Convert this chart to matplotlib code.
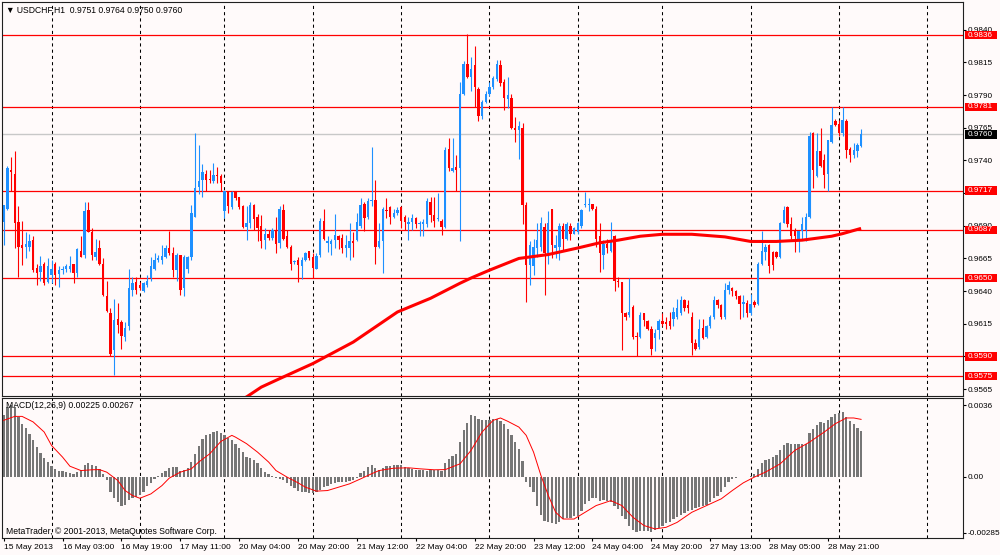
import matplotlib
matplotlib.use('Agg')
import matplotlib.pyplot as plt
import matplotlib.transforms as mtransforms
from matplotlib.patches import Rectangle
import numpy as np

plt.rcParams['font.family'] = ['Liberation Sans', 'DejaVu Sans']

# USDCHF H1 bars, prices in pips (price = value / 10000)
opens = [
    9693, 9703, 9733, 9730, 9693, 9675, 9674, 9674, 9679, 9658,
    9655, 9661, 9647, 9652, 9661, 9653, 9656, 9657, 9657, 9661,
    9654, 9671, 9668, 9702, 9685, 9666, 9673, 9661, 9636, 9623,
    9595, 9619, 9616, 9605, 9613, 9641, 9647, 9645, 9640, 9645,
    9650, 9657, 9664, 9664, 9666, 9673, 9669, 9656, 9668, 9642,
    9657, 9666, 9697, 9720, 9725, 9730, 9726, 9724, 9729, 9728,
    9701, 9716, 9704, 9716, 9712, 9705, 9689, 9692, 9706, 9697,
    9690, 9679, 9684, 9681, 9687, 9677, 9702, 9682, 9674, 9662,
    9664, 9659, 9664, 9671, 9666, 9657, 9668, 9694, 9677, 9676,
    9679, 9682, 9681, 9673, 9673, 9678, 9679, 9690, 9707, 9697,
    9709, 9710, 9674, 9678, 9702, 9704, 9697, 9700, 9704, 9697,
    9691, 9693, 9696, 9691, 9691, 9691, 9708, 9698, 9695, 9694,
    9689, 9749, 9732, 9735, 9734, 9791, 9814, 9804, 9813, 9795,
    9774, 9785, 9791, 9796, 9802, 9813, 9800, 9787, 9788, 9765,
    9763, 9765, 9706, 9660, 9659, 9673, 9674, 9689, 9669, 9703,
    9673, 9674, 9690, 9680, 9690, 9684, 9685, 9690, 9706, 9706,
    9707, 9703, 9682, 9668, 9676, 9671, 9682, 9648, 9647, 9623,
    9622, 9628, 9606, 9605, 9623, 9617, 9611, 9604, 9610, 9617,
    9616, 9617, 9619, 9620, 9623, 9633, 9629, 9620, 9600, 9597,
    9612, 9605, 9613, 9620, 9633, 9629, 9620, 9641, 9642, 9640,
    9636, 9630, 9631, 9623, 9632, 9630, 9661, 9670, 9675, 9670,
    9670, 9666, 9692, 9704, 9691, 9686, 9679, 9686, 9687, 9697,
    9761, 9728, 9747, 9740, 9730, 9754, 9770, 9768, 9761, 9770,
    9749, 9744, 9747, 9751,
]
highs = [
    9706, 9736, 9743, 9747, 9705, 9694, 9685, 9684, 9682, 9661,
    9667, 9662, 9665, 9664, 9662, 9659, 9659, 9661, 9667, 9661,
    9673, 9682, 9708, 9708, 9688, 9680, 9679, 9665, 9648, 9627,
    9634, 9631, 9618, 9616, 9657, 9651, 9651, 9647, 9647, 9652,
    9666, 9669, 9668, 9675, 9675, 9686, 9674, 9669, 9668, 9668,
    9667, 9706, 9761, 9752, 9737, 9733, 9733, 9738, 9735, 9730,
    9717, 9717, 9717, 9717, 9712, 9706, 9705, 9708, 9707, 9699,
    9698, 9688, 9687, 9688, 9697, 9705, 9707, 9687, 9675, 9664,
    9666, 9666, 9670, 9671, 9669, 9669, 9696, 9703, 9682, 9680,
    9699, 9683, 9684, 9683, 9692, 9685, 9700, 9711, 9708, 9711,
    9750, 9725, 9692, 9704, 9711, 9705, 9703, 9704, 9705, 9698,
    9697, 9699, 9697, 9694, 9695, 9711, 9712, 9712, 9715, 9695,
    9750, 9757, 9757, 9744, 9800, 9816, 9837, 9819, 9828, 9796,
    9786, 9793, 9800, 9805, 9817, 9817, 9802, 9804, 9791, 9773,
    9770, 9769, 9708, 9678, 9680, 9692, 9697, 9692, 9701, 9703,
    9683, 9692, 9692, 9693, 9692, 9689, 9693, 9703, 9716, 9711,
    9707, 9705, 9692, 9679, 9680, 9693, 9683, 9651, 9647, 9624,
    9650, 9629, 9609, 9624, 9623, 9618, 9613, 9611, 9619, 9623,
    9620, 9624, 9628, 9634, 9636, 9634, 9633, 9624, 9603, 9619,
    9619, 9614, 9622, 9636, 9634, 9630, 9646, 9648, 9643, 9641,
    9637, 9637, 9633, 9638, 9633, 9662, 9686, 9676, 9676, 9671,
    9671, 9693, 9705, 9705, 9697, 9688, 9686, 9697, 9700, 9762,
    9762, 9761, 9765, 9745, 9756, 9781, 9772, 9771, 9781, 9772,
    9750, 9753, 9753, 9764,
]
lows = [
    9675, 9702, 9717, 9673, 9651, 9660, 9665, 9671, 9655, 9645,
    9648, 9645, 9646, 9646, 9645, 9643, 9653, 9655, 9655, 9646,
    9651, 9666, 9665, 9685, 9664, 9664, 9660, 9636, 9624, 9590,
    9576, 9608, 9596, 9602, 9610, 9636, 9638, 9641, 9639, 9643,
    9648, 9656, 9662, 9661, 9665, 9668, 9651, 9648, 9637, 9636,
    9654, 9664, 9697, 9714, 9712, 9717, 9723, 9723, 9723, 9717,
    9696, 9700, 9703, 9710, 9703, 9688, 9679, 9688, 9687, 9678,
    9673, 9672, 9679, 9679, 9669, 9673, 9679, 9673, 9656, 9661,
    9647, 9649, 9663, 9664, 9650, 9657, 9666, 9679, 9670, 9668,
    9673, 9672, 9669, 9666, 9664, 9666, 9678, 9688, 9686, 9695,
    9705, 9661, 9673, 9654, 9696, 9691, 9696, 9698, 9688, 9687,
    9679, 9687, 9688, 9682, 9682, 9689, 9693, 9689, 9694, 9683,
    9688, 9732, 9731, 9717, 9678, 9790, 9803, 9793, 9781, 9770,
    9772, 9784, 9789, 9795, 9801, 9797, 9779, 9780, 9764, 9754,
    9741, 9691, 9632, 9645, 9652, 9666, 9671, 9637, 9661, 9665,
    9665, 9664, 9671, 9679, 9679, 9684, 9684, 9688, 9704, 9701,
    9702, 9674, 9655, 9657, 9669, 9670, 9640, 9643, 9595, 9618,
    9620, 9603, 9590, 9604, 9613, 9610, 9591, 9594, 9603, 9613,
    9611, 9611, 9613, 9619, 9622, 9625, 9623, 9591, 9595, 9596,
    9603, 9604, 9612, 9619, 9627, 9619, 9619, 9638, 9636, 9634,
    9619, 9620, 9620, 9622, 9628, 9629, 9660, 9664, 9654, 9656,
    9665, 9665, 9692, 9689, 9680, 9670, 9670, 9679, 9678, 9696,
    9719, 9727, 9735, 9719, 9717, 9753, 9766, 9759, 9759, 9742,
    9739, 9742, 9743, 9750,
]
closes = [
    9706, 9734, 9731, 9692, 9674, 9673, 9676, 9678, 9656, 9654,
    9659, 9646, 9659, 9657, 9652, 9656, 9657, 9659, 9659, 9654,
    9672, 9666, 9701, 9685, 9668, 9670, 9661, 9637, 9625, 9592,
    9618, 9614, 9606, 9612, 9642, 9646, 9641, 9642, 9646, 9648,
    9659, 9664, 9665, 9667, 9673, 9669, 9656, 9668, 9641, 9666,
    9666, 9700, 9719, 9724, 9731, 9725, 9725, 9729, 9728, 9723,
    9717, 9705, 9716, 9711, 9704, 9689, 9692, 9706, 9695, 9688,
    9678, 9684, 9681, 9687, 9676, 9703, 9680, 9674, 9661, 9663,
    9660, 9664, 9669, 9665, 9658, 9667, 9694, 9680, 9678, 9678,
    9683, 9679, 9673, 9675, 9678, 9677, 9693, 9706, 9696, 9709,
    9710, 9674, 9678, 9703, 9701, 9697, 9700, 9702, 9694, 9693,
    9693, 9696, 9691, 9692, 9693, 9709, 9698, 9694, 9696, 9689,
    9748, 9734, 9734, 9733, 9791, 9814, 9804, 9810, 9796, 9774,
    9785, 9791, 9796, 9803, 9814, 9799, 9788, 9790, 9765, 9763,
    9766, 9706, 9660, 9675, 9674, 9679, 9692, 9669, 9692, 9675,
    9675, 9690, 9680, 9691, 9684, 9688, 9692, 9702, 9707, 9707,
    9703, 9680, 9669, 9676, 9673, 9679, 9648, 9647, 9623, 9620,
    9624, 9605, 9605, 9622, 9618, 9611, 9596, 9608, 9617, 9615,
    9615, 9613, 9624, 9627, 9633, 9627, 9627, 9600, 9596, 9611,
    9604, 9613, 9620, 9633, 9629, 9620, 9641, 9645, 9640, 9636,
    9630, 9632, 9623, 9630, 9629, 9661, 9671, 9674, 9659, 9660,
    9666, 9692, 9702, 9691, 9682, 9682, 9686, 9691, 9697, 9759,
    9733, 9747, 9736, 9729, 9756, 9767, 9767, 9761, 9771, 9748,
    9744, 9748, 9752, 9760,
]

# moving average (red thick line), read at a set of bars
ma_bars = [63, 66, 70, 75, 84, 95, 107, 116, 124, 127, 132, 140, 148, 156,
           162, 167, 173, 179, 187, 196, 203, 210, 217, 225, 228, 233]
ma_vals = [9555, 9559, 9566.5, 9573, 9584.5, 9601, 9624, 9634.5, 9646, 9650,
           9656, 9665, 9668, 9673, 9677, 9679, 9682, 9683.5, 9683.5, 9681.5,
           9678, 9678, 9679, 9682, 9684, 9688]

# MACD(12,26,9) main histogram, units of 0.0001
macd_hist = [
    31, 35, 36, 35, 30, 26.7, 24.5, 21.6, 18.3, 14.9,
    11.8, 9.3, 7.3, 5.2, 3.9, 3.0, 2.7, 2.5, 1.9, 1.4,
    2.2, 3.5, 5.6, 6.8, 5.9, 5.2, 3.9, 1.4, -2.0, -7.6,
    -11, -13, -14.7, -14.4, -12.0, -10.8, -10.2, -9.2, -7.6, -4.9,
    -3.2, -1.5, 0.2, 1.9, 3.0, 4.2, 4.7, 4.7, 3.0, 3.4,
    4.2, 7.3, 11.5, 15.4, 18.8, 20.8, 21.6, 22.5, 22.8, 22.1,
    20.8, 19.4, 18.3, 16.6, 14.4, 12.3, 10.1, 9.5, 8.5, 6.8,
    4.2, 2.2, 1.2, 0.5, -0.8, -1.5, -2.0, -3.2, -4.6, -5.9,
    -7.1, -7.6, -7.9, -8.3, -8.3, -7.9, -6.6, -5.4, -4.6, -3.7,
    -3.2, -2.9, -2.9, -2.9, -2.5, -2.0, -0.8, 1.9, 3.0, 4.7,
    5.9, 4.2, 3.5, 4.2, 5.2, 5.2, 5.6, 5.6, 5.6, 4.7,
    4.2, 3.9, 3.4, 3.5, 3.5, 3.0, 3.4, 3.5, 3.5,
    3.0, 6.9, 9.0, 10.3, 11.5, 17.4, 23.3, 27.2, 31.3, 30.6, 29.2,
    28.7, 28.5, 28.4, 29.2, 28.9, 27.9, 26.4, 24.2, 21.1, 17.4,
    14.0, 7.6, -2.9, -5.4, -7.9, -14.7, -19.4, -22.3, -23.2, -23.5,
    -24.0, -22.8, -21.5, -21.1, -20.8, -20.2, -19.8, -17.2, -13.9, -12.2,
    -11.0, -11.0, -12.2, -11.7, -12.2, -13.0, -15.0, -16.5, -19.8, -21.5,
    -24.8, -26.9, -27.9, -27.4, -27.4, -27.4, -28.2, -26.9, -26.2, -25.0,
    -23.6, -23.2, -21.5, -20.6, -19.4, -18.4, -17.2, -16.7, -16.1, -15.6,
    -14.7, -14.3, -13.0, -11.1, -10.0, -7.9, -5.4, -2.9, -1.5, -0.7,
    -0.3, -0.3, -0.3, 0.5, 1.4, 3.7, 6.6, 8.1, 9.0, 9.8,
    11.0, 13.2, 16.1, 17.1, 16.6, 16.2, 16.2, 16.2, 16.2, 22.1,
    23.8, 26.2, 27.6, 27.2, 28.4, 30.1, 31.8, 32.3, 32.6, 30.1,
    27.9, 26.5, 24.5, 23.0,
]
# signal line, read at a set of bars
sig_bars = [0, 3, 5, 8, 11, 13, 16, 18, 21, 24, 26, 28, 31, 33, 35, 37, 40, 43,
            45, 48, 51, 53, 56, 59, 62, 63, 66, 69, 72, 74, 77, 80, 82, 85, 88,
            91, 94, 97, 100, 102, 106, 110, 113, 117, 120, 124, 127, 130, 133,
            135, 137, 140, 142, 144, 146, 148, 150, 152, 155, 158, 161, 165,
            168, 171, 174, 177, 180, 183, 187, 191, 195, 198, 201, 204, 207,
            211, 215, 219, 223, 226, 229, 231, 233]
sig_vals = [28.4, 30.4, 30.4, 27.6, 22.5, 15.7, 9.8, 5.2, 3.0, 3.4, 3.5, 2.2,
            -2.0, -7.1, -9.6, -11.0, -8.8, -4.6, -0.8, 2.2, 3.9, 7.3, 11.5,
            17.7, 20.8, 19.9, 16.6, 12.3, 7.3, 3.0, -0.3, -3.2, -5.4, -7.4,
            -7.1, -5.4, -3.7, -1.2, 1.4, 3.0, 4.2, 4.4, 3.9, 3.4, 3.5, 6.4,
            13.2, 22.5, 28.4, 29.6, 27.9, 25.0, 20.8, 12.3, 0.5, -9.6, -18.1,
            -21.5, -21.5, -18.1, -14.7, -12.2, -14.7, -20.6, -24.8, -26.5,
            -25.7, -23.2, -18.1, -14.7, -11.3, -7.1, -3.2, -0.3, 2.2, 6.4,
            13.2, 17.4, 22.5, 26.7, 29.6, 29.6, 28.9]

levels = [0.9836, 0.9781, 0.9717, 0.9687, 0.9650, 0.9590, 0.9575]
bid = 0.9760
price_ticks = [0.9565, 0.9590, 0.9615, 0.9640, 0.9665, 0.9690, 0.9715,
               0.9740, 0.9765, 0.9790, 0.9815, 0.9840]
hidden_ticks = [0.9590, 0.9715]   # fully covered by level boxes
day_start_bars = [13, 37, 60, 84, 108, 132, 156, 179, 203, 227, 251]
label_bars = [0, 16, 32, 48, 64, 80, 96, 112, 128, 144, 160, 176, 192, 208, 224]
time_labels = ['15 May 2013', '16 May 03:00', '16 May 19:00', '17 May 11:00',
               '20 May 04:00', '20 May 20:00', '21 May 12:00', '22 May 04:00',
               '22 May 20:00', '23 May 12:00', '24 May 04:00', '24 May 20:00',
               '27 May 13:00', '28 May 05:00', '28 May 21:00']

BG = '#fffafa'
BLUE = '#1e90ff'
RED = '#ff0000'
FS = 5.9

fig = plt.figure(figsize=(10, 5.55), dpi=100, facecolor=BG)
ax = fig.add_axes([0.002, 1 - 396 / 555, 0.961, 394 / 555], facecolor=BG)
ax2 = fig.add_axes([0.002, 1 - 538 / 555, 0.961, 140 / 555], facecolor=BG)

o = np.array(opens) / 1e4
h = np.array(highs) / 1e4
l = np.array(lows) / 1e4
c = np.array(closes) / 1e4
x = np.arange(len(o))
cols = np.where(c >= o, BLUE, RED)

for a in (ax, ax2):
    for b in day_start_bars:
        a.axvline(b, color='black', lw=0.75, ls=(0, (3, 3)), zorder=0.5)
    for s in a.spines.values():
        s.set_color('#202020')
        s.set_linewidth(0.8)
    a.set_xlim(-0.46, 260.7)

# price window
for lv in levels:
    ax.axhline(lv, color=RED, lw=0.9, zorder=1)
ax.axhline(bid, color='#c8c8c8', lw=1.0, zorder=1)

ax.vlines(x, l, h, colors=cols, lw=0.8, zorder=2)
ax.bar(x, np.maximum(np.abs(c - o), 0.00004), bottom=np.minimum(o, c),
       width=0.65, color=cols, linewidth=0, zorder=2)
ax.plot(ma_bars, np.array(ma_vals) / 1e4, color=RED, lw=2.2,
        solid_capstyle='butt', zorder=3)

ax.set_ylim(0.95597, 0.98613)
ax.set_xticks([])
ax.yaxis.tick_right()
ax.set_yticks(price_ticks)
ax.set_yticklabels(['' if t in hidden_ticks else f'{t:.4f}' for t in price_ticks])
ax.tick_params(axis='y', length=2.2, width=0.8, pad=1.2, labelsize=FS)

trans = mtransforms.blended_transform_factory(ax.transAxes, ax.transData)
bx0 = (965 - 2) / 961
bw = 32 / 961
tx = (968 - 2) / 961
for lv, fc in [(v, RED) for v in levels] + [(bid, 'black')]:
    ax.add_patch(Rectangle((bx0, lv - 0.00032), bw, 0.00064, transform=trans,
                           fc=fc, ec='none', clip_on=False, zorder=5))
    ax.text(tx, lv, f'{lv:.4f}', transform=trans, color='white', fontsize=FS,
            va='center', ha='left', clip_on=False, zorder=6)

ax.text(0.004, 0.98, '\u25bc USDCHF,H1  0.9751 0.9764 0.9750 0.9760',
        transform=ax.transAxes, fontsize=6.2, va='center', ha='left')

# MACD window
ax2.bar(x, np.array(macd_hist) / 1e4, width=0.62, color='#767676',
        linewidth=0, zorder=2)
ax2.plot(sig_bars, np.array(sig_vals) / 1e4, color=RED, lw=0.7, zorder=3)
ax2.set_ylim(-0.00311, 0.00397)
ax2.yaxis.tick_right()
ax2.set_yticks([0.0036, 0.0, -0.00285])
ax2.set_yticklabels(['0.0036', '0.00', '-0.00285'])
ax2.tick_params(axis='y', length=2.2, width=0.8, pad=1.2, labelsize=FS)
ax2.set_xticks(label_bars)
ax2.set_xticklabels(time_labels)
ax2.tick_params(axis='x', length=2.5, width=0.8, pad=1.5, labelsize=6.0)
for lbl in ax2.get_xticklabels():
    lbl.set_ha('left')

ax2.text(0.004, 0.943, 'MACD(12,26,9) 0.00225 0.00267', transform=ax2.transAxes,
         fontsize=6.2, va='center', ha='left')
ax2.text(0.004, 0.05, 'MetaTrader, \u00a9 2001-2013, MetaQuotes Software Corp.',
         transform=ax2.transAxes, fontsize=6.2, va='center', ha='left')

fig.savefig('out.png', dpi=100, facecolor=BG)
plt.close(fig)
